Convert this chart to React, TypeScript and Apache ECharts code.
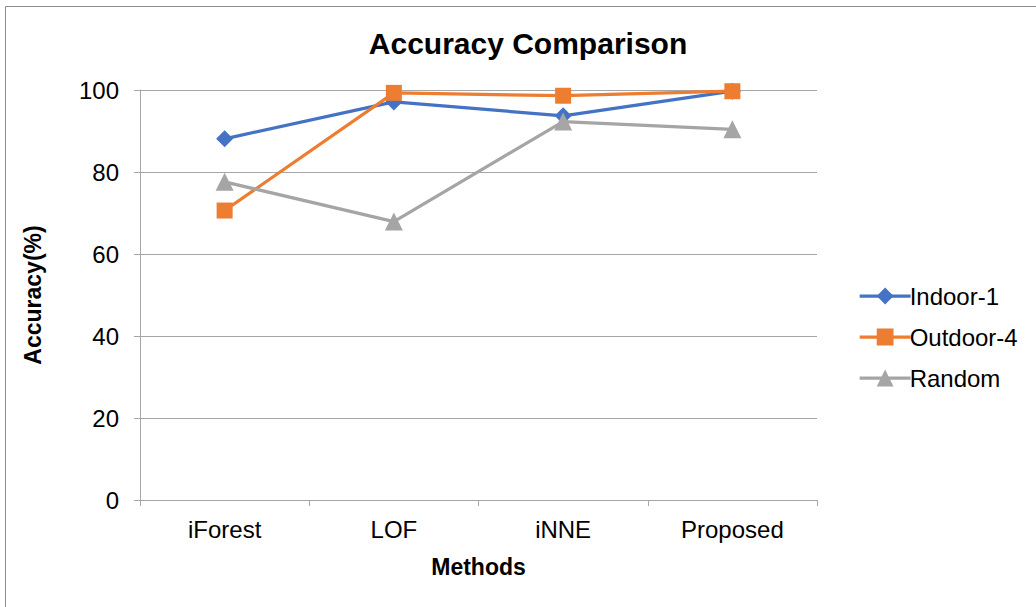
import React, { useEffect, useRef } from "react";
import * as echarts from "echarts";

// Methods compared along the x axis
const methods = ["iForest", "LOF", "iNNE", "Proposed"];

// Accuracy (%) per method for each dataset
const indoor1 = [88.1, 97.1, 93.7, 99.7];
const outdoor4 = [70.6, 99.3, 98.6, 99.7];
const randomSet = [77.6, 67.9, 92.3, 90.4];

const yTicks = { min: 0, max: 100, interval: 20 };

const FONT = "'Liberation Sans', Arial, sans-serif";

export default function App() {
  const ref = useRef<HTMLDivElement>(null);

  useEffect(() => {
    if (!ref.current) return;
    const chart = echarts.init(ref.current, null, { renderer: "svg" });
    const lineSeries = (name: string, data: number[], color: string, symbol: string, size: number) => ({
      name,
      type: "line",
      data,
      symbol,
      symbolSize: size,
      lineStyle: { color, width: 3.25 },
      itemStyle: { color },
      emphasis: { disabled: true },
    });
    chart.setOption({
      animation: false,
      backgroundColor: "#ffffff",
      textStyle: { fontFamily: FONT },
      title: {
        text: "Accuracy Comparison",
        left: 528,
        top: 28,
        padding: 0,
        textAlign: "center",
        textStyle: { fontFamily: FONT, fontSize: 30, fontWeight: "bold", color: "#000" },
      },
      graphic: [
        {
          type: "rect",
          shape: { x: 5.5, y: 6.5, width: 1100, height: 700 },
          style: { fill: "none", stroke: "#8c8c8c", lineWidth: 1 },
          silent: true,
          z: -1,
        },
      ],
      legend: {
        orient: "vertical",
        left: 853,
        top: 279,
        itemWidth: 51,
        itemHeight: 21,
        itemGap: 17,
        lineStyle: { width: 3.25 },
        textStyle: { fontFamily: FONT, fontSize: 24, color: "#000", padding: [0, 0, 0, -6] },
        data: ["Indoor-1", "Outdoor-4", "Random"],
      },
      grid: { left: 140, right: 219, top: 90, bottom: 107 },
      xAxis: {
        type: "category",
        data: methods,
        boundaryGap: true,
        name: "Methods",
        nameLocation: "middle",
        nameGap: 55,
        nameTextStyle: { fontFamily: FONT, fontSize: 23, fontWeight: "bold", color: "#000" },
        axisLine: { lineStyle: { color: "#a6a6a6", width: 1 } },
        axisTick: { show: true, length: 6, alignWithLabel: false, lineStyle: { color: "#a6a6a6" } },
        axisLabel: { fontFamily: FONT, fontSize: 24, color: "#000", margin: 17 },
        splitLine: { show: false },
      },
      yAxis: {
        type: "value",
        min: yTicks.min,
        max: yTicks.max,
        interval: yTicks.interval,
        name: "Accuracy(%)",
        nameLocation: "middle",
        nameGap: 96,
        nameRotate: 90,
        nameTextStyle: { fontFamily: FONT, fontSize: 23, fontWeight: "bold", color: "#000" },
        axisLine: { show: true, lineStyle: { color: "#a6a6a6", width: 1 } },
        axisTick: { show: true, length: 6, lineStyle: { color: "#a6a6a6" } },
        axisLabel: { fontFamily: FONT, fontSize: 24, color: "#000", margin: 21 },
        splitLine: { show: true, lineStyle: { color: "#a6a6a6", width: 1 } },
      },
      series: [
        lineSeries("Indoor-1", indoor1, "#4472C4", "diamond", 17),
        lineSeries("Outdoor-4", outdoor4, "#ED7D31", "rect", 16),
        lineSeries("Random", randomSet, "#A5A5A5", "triangle", 18),
      ],
    });
    return () => chart.dispose();
  }, []);

  return (
    <div
      ref={ref}
      style={{ position: "fixed", left: 0, top: 0, width: 1036, height: 607 }}
    />
  );
}
